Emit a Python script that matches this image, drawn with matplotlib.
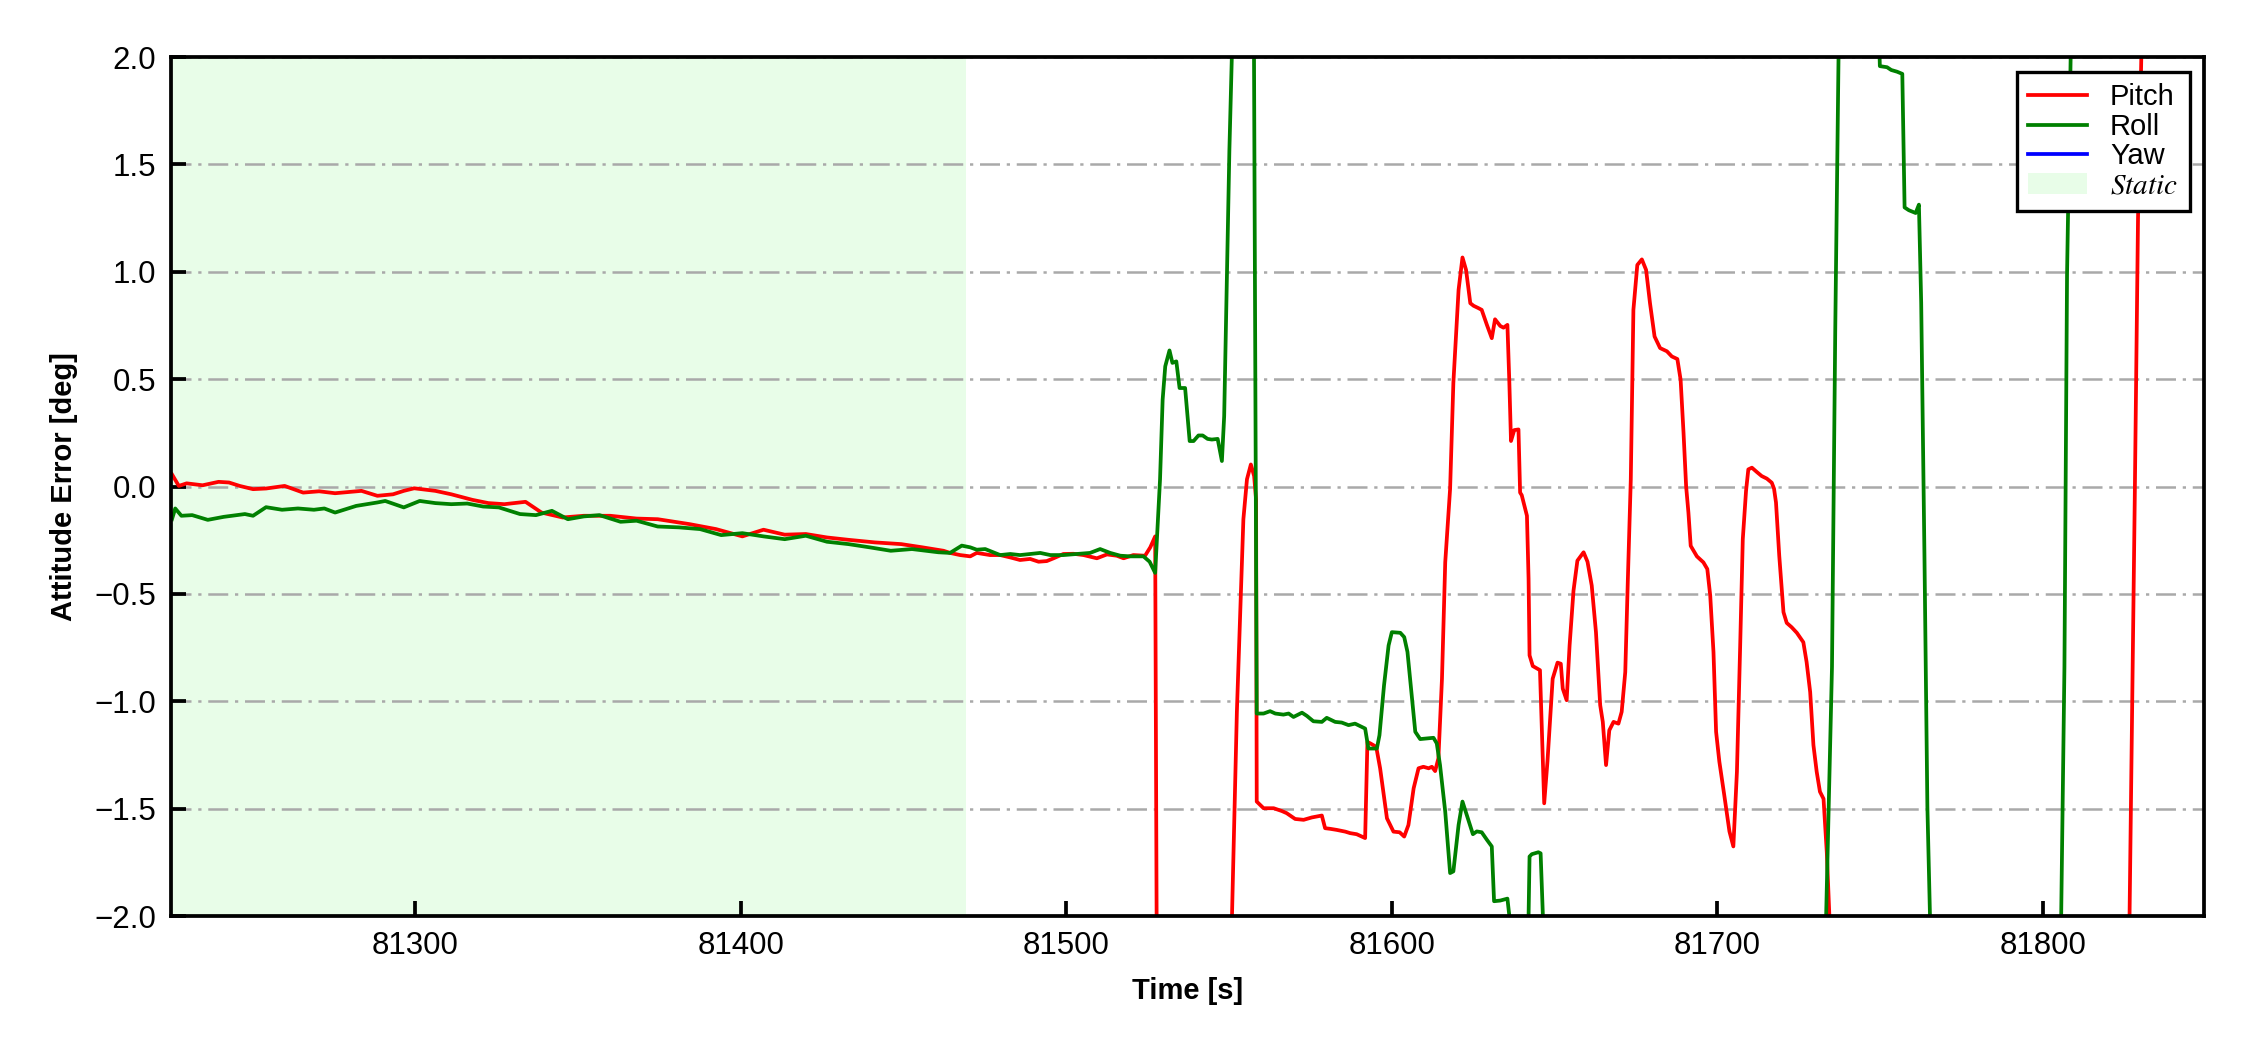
import matplotlib
matplotlib.use('Agg')
import matplotlib.pyplot as plt
import numpy as np

plt.rcParams['font.family'] = ['Liberation Sans', 'DejaVu Sans']
plt.rcParams['mathtext.fontset'] = 'stix'

# attitude error traces (deg); values of +/-3 mark
# stretches where the trace leaves the +/-2 deg window
pitch_t = [81225.3, 81227.4, 81229.8, 81234.7, 81239.6, 81242.8, 81246.1, 81250.2, 81254.2, 81259.9,
           81265.6, 81270.5, 81275.4, 81283.5, 81288.4, 81293.2, 81296.5, 81299.7, 81306.2, 81311.1,
           81317.6, 81322.5, 81327.4, 81333.9, 81338.8, 81345.3, 81351.8, 81359.9, 81368.0, 81374.5,
           81384.3, 81392.4, 81400.5, 81407.0, 81413.5, 81420.0, 81426.5, 81433.1, 81441.2, 81449.3,
           81455.8, 81462.3, 81464.3, 81467.4, 81470.5, 81472.5, 81476.6, 81479.7, 81482.8, 81485.8,
           81488.9, 81491.5, 81494.0, 81496.1, 81499.1, 81502.2, 81505.3, 81509.4, 81512.5, 81515.5,
           81517.6, 81520.6, 81524.2, 81525.8, 81527.3, 81528.0, 81549.5, 81550.9, 81552.4, 81554.4,
           81555.5, 81556.7, 81557.7, 81558.3, 81558.5, 81560.6, 81563.7, 81566.2, 81567.7, 81570.3,
           81572.9, 81575.4, 81578.5, 81579.5, 81581.1, 81583.1, 81585.7, 81587.2, 81589.2, 81591.8,
           81592.5, 81593.5, 81595.2, 81596.4, 81598.5, 81600.5, 81602.4, 81603.8, 81605.1, 81606.7,
           81608.2, 81609.7, 81611.3, 81612.3, 81613.3, 81614.3, 81615.4, 81616.4, 81617.9, 81618.9,
           81620.5, 81621.7, 81622.8, 81624.1, 81625.1, 81626.6, 81627.6, 81629.2, 81630.7, 81631.7,
           81633.3, 81634.3, 81635.5, 81636.1, 81636.6, 81637.6, 81638.9, 81639.4, 81639.9, 81641.5,
           81642.0, 81642.3, 81643.3, 81645.5, 81646.1, 81646.8, 81647.8, 81649.4, 81650.9, 81651.9,
           81652.5, 81653.7, 81654.6, 81655.8, 81657.0, 81658.9, 81660.1, 81661.4, 81662.7, 81664.0,
           81664.8, 81665.8, 81666.8, 81668.1, 81669.6, 81670.6, 81671.7, 81672.5, 81673.4, 81674.2,
           81675.4, 81676.8, 81678.1, 81679.3, 81680.7, 81682.4, 81684.5, 81686.0, 81687.7, 81688.7,
           81689.6, 81690.4, 81691.1, 81691.8, 81693.7, 81695.7, 81696.9, 81697.8, 81698.8, 81699.6,
           81700.6, 81702.1, 81703.7, 81704.9, 81706.0, 81707.0, 81707.8, 81708.8, 81709.5, 81710.6,
           81712.1, 81713.6, 81715.2, 81716.7, 81717.4, 81718.0, 81719.0, 81720.3, 81721.3, 81722.8,
           81724.4, 81726.4, 81727.4, 81728.5, 81729.5, 81730.5, 81731.5, 81732.6, 81733.6, 81734.4,
           81736.0, 81825.0, 81826.6, 81828.2, 81829.2, 81830.2, 81832.0, 81850.0]
pitch_v = [0.057, 0.003, 0.015, 0.006, 0.022, 0.019, 0.003, -0.012, -0.009, 0.003,
           -0.028, -0.022, -0.031, -0.020, -0.043, -0.036, -0.020, -0.008, -0.020, -0.036,
           -0.062, -0.077, -0.082, -0.071, -0.121, -0.144, -0.136, -0.136, -0.149, -0.152,
           -0.175, -0.198, -0.232, -0.201, -0.224, -0.221, -0.237, -0.248, -0.260, -0.268,
           -0.283, -0.299, -0.309, -0.319, -0.325, -0.309, -0.319, -0.319, -0.330, -0.342,
           -0.337, -0.350, -0.347, -0.334, -0.314, -0.313, -0.319, -0.334, -0.316, -0.322,
           -0.334, -0.319, -0.322, -0.283, -0.232, -3.0, -3.0, -2.0, -1.05, -0.152,
           0.034, 0.103, 0.049, -0.06, -1.467, -1.498, -1.498, -1.511, -1.521, -1.548,
           -1.552, -1.541, -1.532, -1.591, -1.594, -1.599, -1.607, -1.614, -1.619, -1.637,
           -1.189, -1.197, -1.212, -1.312, -1.545, -1.607, -1.610, -1.630, -1.576, -1.405,
           -1.312, -1.305, -1.312, -1.305, -1.325, -1.266, -0.895, -0.353, -0.010, 0.483,
           0.916, 1.067, 1.009, 0.854, 0.842, 0.831, 0.823, 0.753, 0.691, 0.779,
           0.748, 0.740, 0.753, 0.483, 0.212, 0.263, 0.266, -0.028, -0.040, -0.136,
           -0.430, -0.786, -0.836, -0.855, -1.142, -1.475, -1.281, -0.895, -0.820, -0.825,
           -0.941, -0.995, -0.740, -0.485, -0.345, -0.306, -0.350, -0.461, -0.678, -1.018,
           -1.096, -1.297, -1.135, -1.096, -1.104, -1.049, -0.864, -0.430, 0.034, 0.823,
           1.032, 1.058, 1.009, 0.854, 0.699, 0.645, 0.630, 0.606, 0.594, 0.498,
           0.250, 0.000, -0.121, -0.276, -0.325, -0.353, -0.384, -0.508, -0.771, -1.142,
           -1.281, -1.436, -1.606, -1.676, -1.328, -0.740, -0.245, -0.020, 0.080, 0.088,
           0.068, 0.049, 0.037, 0.018, -0.010, -0.074, -0.322, -0.585, -0.635, -0.655,
           -0.681, -0.725, -0.817, -0.957, -1.204, -1.328, -1.421, -1.454, -1.702, -2.0,
           -3.0, -3.0, -2.0, -0.057, 1.248, 1.99, 3.0, 3.0]

roll_t = [81225.3, 81226.3, 81228.2, 81231.5, 81236.3, 81241.2, 81247.7, 81250.2, 81254.2, 81259.1,
          81264.0, 81268.9, 81272.1, 81275.4, 81281.9, 81288.4, 81290.8, 81296.5, 81301.4, 81306.2,
          81311.1, 81316.0, 81320.9, 81325.7, 81332.2, 81337.1, 81342.0, 81346.9, 81351.8, 81356.6,
          81363.1, 81368.0, 81374.5, 81381.0, 81387.5, 81394.0, 81400.5, 81407.0, 81413.5, 81420.0,
          81426.5, 81433.1, 81439.6, 81446.1, 81452.6, 81460.7, 81464.3, 81467.9, 81470.5, 81472.5,
          81475.1, 81479.7, 81482.8, 81485.8, 81488.9, 81492.0, 81495.1, 81499.1, 81503.2, 81507.3,
          81510.4, 81513.5, 81516.6, 81519.6, 81523.7, 81525.6, 81527.3, 81528.8, 81529.6, 81530.4,
          81531.7, 81532.6, 81533.8, 81534.8, 81536.5, 81537.9, 81539.1, 81540.6, 81541.9, 81543.4,
          81544.7, 81546.5, 81547.8, 81548.5, 81549.3, 81550.1, 81550.9, 81554.0, 81557.5, 81558.5,
          81560.6, 81562.6, 81564.2, 81566.7, 81568.3, 81569.8, 81572.4, 81573.9, 81575.9, 81578.5,
          81580.0, 81582.6, 81584.6, 81586.7, 81588.7, 81591.8, 81592.8, 81595.4, 81596.2, 81597.6,
          81599.0, 81600.0, 81602.6, 81603.8, 81604.8, 81606.1, 81607.2, 81608.7, 81610.7, 81612.8,
          81613.8, 81614.8, 81616.4, 81617.9, 81618.9, 81620.5, 81621.7, 81623.0, 81624.9, 81626.1,
          81627.6, 81629.2, 81630.7, 81631.4, 81633.3, 81635.5, 81636.1, 81639.0, 81642.0, 81642.3,
          81643.0, 81645.0, 81645.7, 81646.4, 81650.0, 81731.0, 81733.4, 81735.2, 81736.2, 81737.2,
          81743.0, 81749.3, 81749.9, 81752.1, 81753.4, 81755.2, 81756.8, 81757.5, 81758.8, 81760.9,
          81761.9, 81762.6, 81763.6, 81764.5, 81765.3, 81785.0, 81805.6, 81806.6, 81807.4, 81808.5,
          81812.0, 81850.0]
roll_v = [-0.152, -0.102, -0.136, -0.133, -0.155, -0.141, -0.128, -0.136, -0.096, -0.108,
          -0.102, -0.108, -0.102, -0.121, -0.090, -0.074, -0.067, -0.097, -0.067, -0.077,
          -0.082, -0.079, -0.093, -0.097, -0.128, -0.133, -0.113, -0.152, -0.139, -0.133,
          -0.164, -0.159, -0.186, -0.190, -0.198, -0.226, -0.217, -0.232, -0.245, -0.229,
          -0.257, -0.268, -0.283, -0.299, -0.291, -0.306, -0.309, -0.275, -0.283, -0.294,
          -0.291, -0.319, -0.314, -0.319, -0.314, -0.309, -0.319, -0.319, -0.314, -0.309,
          -0.291, -0.309, -0.322, -0.325, -0.325, -0.350, -0.402, 0.034, 0.405, 0.560,
          0.634, 0.576, 0.583, 0.459, 0.459, 0.212, 0.212, 0.238, 0.238, 0.222,
          0.219, 0.222, 0.119, 0.328, 0.947, 1.566, 2.03, 3.0, 2.6, -1.057,
          -1.057, -1.046, -1.057, -1.062, -1.057, -1.073, -1.053, -1.068, -1.093, -1.096,
          -1.077, -1.096, -1.099, -1.111, -1.104, -1.127, -1.220, -1.220, -1.158, -0.926,
          -0.740, -0.678, -0.681, -0.701, -0.770, -0.972, -1.142, -1.176, -1.173, -1.170,
          -1.196, -1.297, -1.514, -1.800, -1.792, -1.576, -1.467, -1.529, -1.619, -1.606,
          -1.610, -1.645, -1.676, -1.931, -1.928, -1.919, -2.0, -3.0, -2.0, -1.723,
          -1.712, -1.703, -1.708, -2.0, -3.0, -3.0, -2.0, -0.84, 0.726, 1.99,
          3.0, 2.3, 1.958, 1.953, 1.940, 1.932, 1.922, 1.300, 1.287, 1.274,
          1.313, 0.856, -0.319, -1.490, -2.0, -3.0, -2.0, -0.84, 0.987, 1.99,
          3.0, 3.0]

static_span = (81225.0, 81469.2)
x_lim = (81225.0, 81849.5)
y_lim = (-2.0, 2.0)

fig = plt.figure(figsize=(7.5, 3.5), dpi=300)
ax = fig.add_axes([0.076, 0.1276, 0.9036, 0.818])

ax.axvspan(*static_span, color='#e8fde8', lw=0, label='$Static$', zorder=0)
ax.plot(pitch_t, pitch_v, color='r', lw=0.9, label='Pitch')
ax.plot(roll_t, roll_v, color='g', lw=0.9, label='Roll')
# yaw error never enters the +/-2 deg window, so it only shows in the legend
ax.plot([], [], color='b', lw=0.9, label='Yaw')

ax.set_xlim(*x_lim)
ax.set_ylim(*y_lim)
ax.set_yticks(np.arange(-2.0, 2.01, 0.5))
ax.set_xticks([81300, 81400, 81500, 81600, 81700, 81800])
ax.yaxis.grid(True, color='darkgray', lw=0.6, linestyle=(0, (8, 2.7, 1.3, 2.7)))
ax.set_axisbelow(True)

ax.tick_params(direction='in', length=3.5, width=0.9, labelsize=7.5)
for s in ax.spines.values():
    s.set_linewidth(0.9)

ax.set_xlabel('Time [s]', fontsize=7, fontweight='bold')
ax.set_ylabel('Attitude Error [deg]', fontsize=7, fontweight='bold')

h, l = ax.get_legend_handles_labels()
order = [l.index(k) for k in ['Pitch', 'Roll', 'Yaw', '$Static$']]
leg = ax.legend([h[i] for i in order], [l[i] for i in order], loc='upper right',
                fontsize=7, fancybox=False, edgecolor='k', framealpha=1,
                labelspacing=0.05, borderpad=0.4, handlelength=2.0)
leg.get_frame().set_linewidth(0.8)

fig.savefig('out.png', dpi=300)
